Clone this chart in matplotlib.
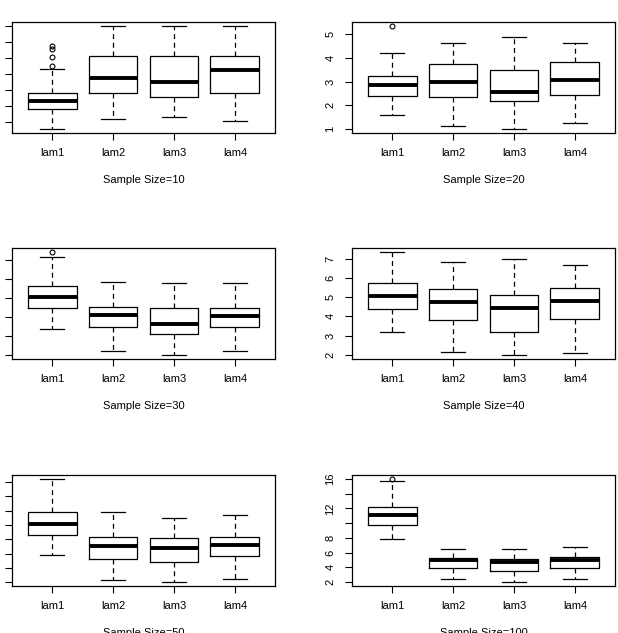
import matplotlib
matplotlib.use("Agg")
import matplotlib.pyplot as plt

plt.rcParams["font.family"] = ["Liberation Sans", "DejaVu Sans"]

groups = ["lam1", "lam2", "lam3", "lam4"]
sizes = [10, 20, 30, 40, 50, 100]

# per panel, per group: lower whisker, Q1, median, Q3, upper whisker
lows = [
    [1.18, 2.46, 2.67, 2.17],
    [1.57, 1.14, 1.00, 1.25],
    [3.38, 2.19, 2.00, 2.19],
    [3.17, 2.16, 2.00, 2.10],
    [3.90, 2.16, 2.04, 2.21],
    [7.82, 2.41, 2.00, 2.41],
]
q1s = [
    [3.66, 5.65, 5.16, 5.65],
    [2.37, 2.33, 2.16, 2.41],
    [4.46, 3.49, 3.11, 3.46],
    [4.41, 3.81, 3.17, 3.86],
    [5.28, 3.60, 3.41, 3.81],
    [9.69, 3.96, 3.55, 3.87],
]
meds = [
    [4.70, 7.56, 7.09, 8.55],
    [2.86, 3.00, 2.57, 3.07],
    [5.07, 4.09, 3.62, 4.04],
    [5.07, 4.74, 4.43, 4.79],
    [6.05, 4.54, 4.43, 4.64],
    [11.06, 4.92, 4.73, 5.00],
]
q3s = [
    [5.65, 10.25, 10.25, 10.25],
    [3.25, 3.73, 3.48, 3.84],
    [5.63, 4.54, 4.46, 4.49],
    [5.72, 5.41, 5.10, 5.50],
    [6.90, 5.15, 5.10, 5.17],
    [12.23, 5.27, 5.14, 5.41],
]
highs = [
    [8.67, 14.01, 14.01, 14.01],
    [4.21, 4.61, 4.89, 4.61],
    [7.16, 5.84, 5.81, 5.79],
    [7.34, 6.81, 6.97, 6.67],
    [9.19, 6.90, 6.51, 6.69],
    [15.70, 6.46, 6.50, 6.77],
]
outliers = [
    [[9.01, 10.20, 11.16, 11.53], [], [], []],
    [[5.34], [], [], []],
    [[7.42], [], [], []],
    [[], [], [], []],
    [[], [], [], []],
    [[16.0], [], [], []],
]

yticks = [
    [2, 4, 6, 8, 10, 12, 14],
    [1, 2, 3, 4, 5],
    [2, 3, 4, 5, 6, 7],
    [2, 3, 4, 5, 6, 7],
    [2, 3, 4, 5, 6, 7, 8, 9],
    [2, 4, 6, 8, 10, 12, 14, 16],
]
yticklabels = [
    None,
    ["1", "2", "3", "4", "5"],
    None,
    ["2", "3", "4", "5", "6", "7"],
    None,
    ["2", "4", "6", "8", "", "12", "", "16"],
]

W, H = 618, 633
col_left = [12, 352]
row_top = [22, 248, 475]
ax_w, ax_h = 263, 111

fig = plt.figure(figsize=(W / 100, H / 100), dpi=100)

for i, n in enumerate(sizes):
    r, c = divmod(i, 2)
    ax = fig.add_axes([col_left[c] / W, 1 - (row_top[r] + ax_h) / H, ax_w / W, ax_h / H])
    stats = []
    for g in range(4):
        stats.append(dict(med=meds[i][g], q1=q1s[i][g], q3=q3s[i][g],
                          whislo=lows[i][g], whishi=highs[i][g],
                          fliers=outliers[i][g], label=groups[g]))
    ax.bxp(stats, positions=[1, 2, 3, 4], widths=0.8, showfliers=True,
           boxprops=dict(color="black", lw=0.9),
           medianprops=dict(color="black", lw=2.8, solid_capstyle="butt"),
           whiskerprops=dict(color="black", lw=0.9, linestyle=(0, (4, 3))),
           capprops=dict(color="black", lw=0.9),
           flierprops=dict(marker="o", mfc="none", mec="black", ms=3.5, mew=0.8))

    vals = lows[i] + highs[i] + [v for f in outliers[i] for v in f]
    lo, hi = min(vals), max(vals)
    pad = (hi - lo) * 0.04
    ax.set_ylim(lo - pad, hi + pad)
    ax.set_xlim(0.34, 4.66)

    ax.set_yticks(yticks[i])
    if yticklabels[i] is None:
        ax.tick_params(axis="y", labelleft=False)
    else:
        ax.set_yticklabels(yticklabels[i], rotation=90, va="center")
    ax.tick_params(direction="out", length=5, width=0.8, labelsize=8, pad=7)
    ax.tick_params(axis="x", pad=6)
    ax.set_xlabel(f"Sample Size={n}", fontsize=8, labelpad=12)
    for s in ax.spines.values():
        s.set_linewidth(0.9)

fig.savefig("out.png", dpi=100)
